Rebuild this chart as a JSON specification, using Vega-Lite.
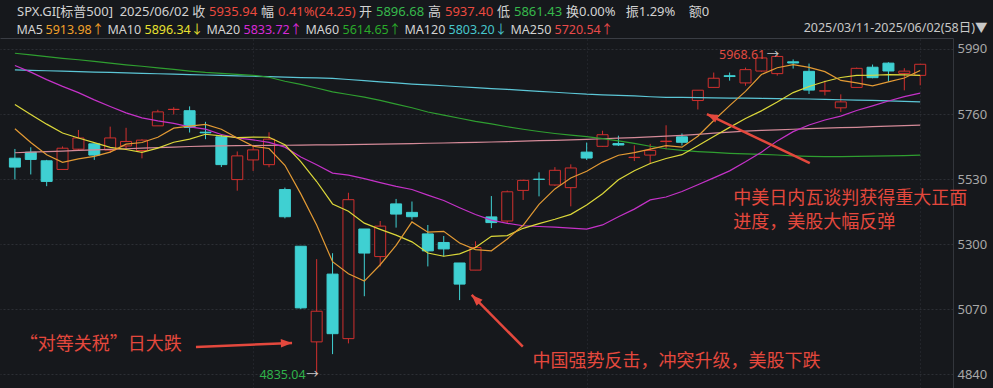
{
  "$schema": "https://vega.github.io/schema/vega-lite/v6.json",
  "width": 953,
  "height": 350,
  "autosize": {"type": "none"},
  "padding": {"left": 0, "top": 38, "right": 40, "bottom": 0},
  "background": "#16181c",
  "config": {"view": {"stroke": null}, "font": "Noto Sans, Noto Sans CJK SC"},
  "datasets": {
    "k": [
      {"i":0,"d":"2025-03-11","open":5603.65,"high":5636.30,"low":5528.41,"close":5572.07,"ma5":5707.60,"ma10":5793.80,"ma20":5931.55,"ma60":5975,"ma120":5916,"ma250":5623},
      {"i":1,"d":"2025-03-12","open":5624.84,"high":5642.19,"low":5546.09,"close":5599.30,"ma5":5658.93,"ma10":5758.12,"ma20":5908.09,"ma60":5969,"ma120":5914.5,"ma250":5625},
      {"i":2,"d":"2025-03-13","open":5594.45,"high":5597.78,"low":5504.65,"close":5521.52,"ma5":5615.53,"ma10":5724.12,"ma20":5881.57,"ma60":5963,"ma120":5913,"ma250":5627},
      {"i":3,"d":"2025-03-14","open":5563.85,"high":5645.27,"low":5563.85,"close":5638.94,"ma5":5589.28,"ma10":5692.56,"ma20":5857.76,"ma60":5957,"ma120":5911.5,"ma250":5629},
      {"i":4,"d":"2025-03-17","open":5635.60,"high":5703.52,"low":5631.12,"close":5675.12,"ma5":5601.39,"ma10":5675.10,"ma20":5835.79,"ma60":5952,"ma120":5910,"ma250":5631},
      {"i":5,"d":"2025-03-18","open":5654.53,"high":5654.53,"low":5597.76,"close":5614.66,"ma5":5609.91,"ma10":5658.75,"ma20":5810.04,"ma60":5946,"ma120":5908.5,"ma250":5633},
      {"i":6,"d":"2025-03-19","open":5632.37,"high":5715.33,"low":5622.20,"close":5675.29,"ma5":5625.11,"ma10":5642.02,"ma20":5786.60,"ma60":5940,"ma120":5907,"ma250":5635},
      {"i":7,"d":"2025-03-20","open":5646.92,"high":5711.15,"low":5632.62,"close":5662.89,"ma5":5653.38,"ma10":5634.46,"ma20":5763.87,"ma60":5934,"ma120":5905.5,"ma250":5637},
      {"i":8,"d":"2025-03-21","open":5630.73,"high":5670.84,"low":5603.10,"close":5667.56,"ma5":5659.10,"ma10":5624.19,"ma20":5746.59,"ma60":5929,"ma120":5904,"ma250":5639},
      {"i":9,"d":"2025-03-24","open":5718.08,"high":5775.14,"low":5718.08,"close":5767.57,"ma5":5677.59,"ma10":5639.49,"ma20":5735.80,"ma60":5923,"ma120":5902.5,"ma250":5641},
      {"i":10,"d":"2025-03-25","open":5775.89,"high":5783.96,"low":5758.40,"close":5776.65,"ma5":5709.99,"ma10":5659.95,"ma20":5726.87,"ma60":5918,"ma120":5901,"ma250":5643},
      {"i":11,"d":"2025-03-26","open":5771.66,"high":5786.95,"low":5694.41,"close":5712.20,"ma5":5717.37,"ma10":5671.24,"ma20":5714.68,"ma60":5912,"ma120":5899.5,"ma250":5645},
      {"i":12,"d":"2025-03-27","open":5695.64,"high":5732.28,"low":5670.94,"close":5693.31,"ma5":5723.46,"ma10":5688.42,"ma20":5706.27,"ma60":5907,"ma120":5898,"ma250":5646.5},
      {"i":13,"d":"2025-03-28","open":5679.33,"high":5685.89,"low":5572.42,"close":5580.94,"ma5":5706.13,"ma10":5682.62,"ma20":5687.59,"ma60":5904,"ma120":5896.5,"ma250":5647.5},
      {"i":14,"d":"2025-03-31","open":5527.91,"high":5627.46,"low":5488.73,"close":5611.85,"ma5":5674.99,"ma10":5676.29,"ma20":5675.70,"ma60":5900,"ma120":5895,"ma250":5648},
      {"i":15,"d":"2025-04-01","open":5597.53,"high":5650.57,"low":5558.52,"close":5633.07,"ma5":5646.27,"ma10":5678.13,"ma20":5668.44,"ma60":5897,"ma120":5893.5,"ma250":5648.5},
      {"i":16,"d":"2025-04-02","open":5580.76,"high":5695.31,"low":5571.48,"close":5670.97,"ma5":5638.03,"ma10":5677.70,"ma20":5659.86,"ma60":5890,"ma120":5892,"ma250":5649},
      {"i":17,"d":"2025-04-03","open":5492.74,"high":5499.53,"low":5390.83,"close":5396.52,"ma5":5578.67,"ma10":5651.06,"ma20":5642.76,"ma60":5876,"ma120":5890.5,"ma250":5649.5},
      {"i":18,"d":"2025-04-04","open":5292.14,"high":5292.14,"low":5069.90,"close":5074.08,"ma5":5477.30,"ma10":5591.72,"ma20":5607.95,"ma60":5865,"ma120":5889,"ma250":5650},
      {"i":19,"d":"2025-04-07","open":4953.79,"high":5246.57,"low":4835.04,"close":5062.25,"ma5":5367.38,"ma10":5521.18,"ma20":5580.34,"ma60":5852,"ma120":5887.5,"ma250":5650.5},
      {"i":20,"d":"2025-04-08","open":5193.57,"high":5267.47,"low":4910.42,"close":4982.77,"ma5":5237.32,"ma10":5441.80,"ma20":5550.87,"ma60":5838,"ma120":5886,"ma250":5651},
      {"i":21,"d":"2025-04-09","open":4965.28,"high":5481.34,"low":4948.43,"close":5456.90,"ma5":5194.50,"ma10":5416.27,"ma20":5543.75,"ma60":5829,"ma120":5882,"ma250":5652},
      {"i":22,"d":"2025-04-10","open":5353.15,"high":5353.15,"low":5115.27,"close":5268.05,"ma5":5168.81,"ma10":5373.74,"ma20":5531.08,"ma60":5820,"ma120":5878,"ma250":5652.5},
      {"i":23,"d":"2025-04-11","open":5255.56,"high":5381.46,"low":5220.77,"close":5363.36,"ma5":5226.67,"ma10":5351.98,"ma20":5517.30,"ma60":5808,"ma120":5874,"ma250":5653.5},
      {"i":24,"d":"2025-04-14","open":5441.96,"high":5459.46,"low":5358.02,"close":5405.97,"ma5":5295.41,"ma10":5331.39,"ma20":5503.84,"ma60":5795,"ma120":5870,"ma250":5654.5},
      {"i":25,"d":"2025-04-15","open":5411.99,"high":5450.41,"low":5386.44,"close":5396.63,"ma5":5378.18,"ma10":5307.75,"ma20":5492.94,"ma60":5782,"ma120":5866,"ma250":5655.5},
      {"i":26,"d":"2025-04-16","open":5335.75,"high":5367.24,"low":5220.79,"close":5275.70,"ma5":5341.94,"ma10":5268.22,"ma20":5472.96,"ma60":5767,"ma120":5863,"ma250":5656.5},
      {"i":27,"d":"2025-04-17","open":5305.45,"high":5328.31,"low":5255.58,"close":5282.70,"ma5":5344.87,"ma10":5256.84,"ma20":5453.95,"ma60":5756,"ma120":5860,"ma250":5657.5},
      {"i":28,"d":"2025-04-21","open":5232.94,"high":5232.94,"low":5101.63,"close":5158.20,"ma5":5303.84,"ma10":5265.25,"ma20":5428.48,"ma60":5745,"ma120":5856.5,"ma250":5658.5},
      {"i":29,"d":"2025-04-22","open":5207.67,"high":5309.60,"low":5207.67,"close":5287.76,"ma5":5280.20,"ma10":5287.80,"ma20":5404.49,"ma60":5734,"ma120":5853,"ma250":5659.5},
      {"i":30,"d":"2025-04-23","open":5395.92,"high":5469.69,"low":5356.22,"close":5375.86,"ma5":5276.04,"ma10":5327.11,"ma20":5384.45,"ma60":5725,"ma120":5850,"ma250":5661},
      {"i":31,"d":"2025-04-24","open":5381.38,"high":5489.40,"low":5371.96,"close":5484.77,"ma5":5317.86,"ma10":5329.90,"ma20":5373.08,"ma60":5715,"ma120":5847,"ma250":5662.5},
      {"i":32,"d":"2025-04-25","open":5489.69,"high":5528.11,"low":5455.86,"close":5525.21,"ma5":5366.36,"ma10":5355.62,"ma20":5364.68,"ma60":5706,"ma120":5843.5,"ma250":5664},
      {"i":33,"d":"2025-04-28","open":5529.22,"high":5553.66,"low":5468.64,"close":5528.75,"ma5":5440.47,"ma10":5372.16,"ma20":5362.07,"ma60":5698,"ma120":5840,"ma250":5665.5},
      {"i":34,"d":"2025-04-29","open":5508.87,"high":5571.95,"low":5505.70,"close":5560.83,"ma5":5495.08,"ma10":5387.64,"ma20":5359.52,"ma60":5691,"ma120":5837,"ma250":5667},
      {"i":35,"d":"2025-04-30","open":5499.44,"high":5581.84,"low":5433.24,"close":5569.06,"ma5":5533.72,"ma10":5404.88,"ma20":5356.32,"ma60":5685,"ma120":5833.5,"ma250":5668.5},
      {"i":36,"d":"2025-05-01","open":5625.14,"high":5658.91,"low":5597.35,"close":5604.14,"ma5":5557.60,"ma10":5437.73,"ma20":5352.98,"ma60":5680,"ma120":5830,"ma250":5670.5},
      {"i":37,"d":"2025-05-02","open":5645.69,"high":5700.70,"low":5644.53,"close":5686.67,"ma5":5589.89,"ma10":5478.13,"ma20":5367.48,"ma60":5673,"ma120":5828,"ma250":5672.5},
      {"i":38,"d":"2025-05-05","open":5655.32,"high":5683.23,"low":5646.91,"close":5650.38,"ma5":5614.22,"ma10":5527.34,"ma20":5396.30,"ma60":5665,"ma120":5826,"ma250":5674.5},
      {"i":39,"d":"2025-05-06","open":5605.88,"high":5649.11,"low":5593.60,"close":5606.91,"ma5":5623.43,"ma10":5559.26,"ma20":5423.53,"ma60":5656,"ma120":5824,"ma250":5676.5},
      {"i":40,"d":"2025-05-07","open":5614.60,"high":5654.34,"low":5585.82,"close":5631.28,"ma5":5635.88,"ma10":5584.80,"ma20":5455.96,"ma60":5646,"ma120":5821,"ma250":5679},
      {"i":41,"d":"2025-05-08","open":5662.50,"high":5720.10,"low":5635.13,"close":5663.94,"ma5":5647.84,"ma10":5602.72,"ma20":5466.31,"ma60":5637,"ma120":5819,"ma250":5681.5},
      {"i":42,"d":"2025-05-09","open":5679.28,"high":5691.22,"low":5648.36,"close":5659.91,"ma5":5642.48,"ma10":5616.19,"ma20":5485.90,"ma60":5631,"ma120":5818.5,"ma250":5684.5},
      {"i":43,"d":"2025-05-12","open":5807.63,"high":5844.19,"low":5775.98,"close":5844.19,"ma5":5681.25,"ma10":5647.73,"ma20":5509.94,"ma60":5627,"ma120":5818,"ma250":5688},
      {"i":44,"d":"2025-05-13","open":5854.13,"high":5906.63,"low":5853.42,"close":5886.55,"ma5":5737.17,"ma10":5680.30,"ma20":5533.97,"ma60":5624,"ma120":5817,"ma250":5692},
      {"i":45,"d":"2025-05-14","open":5895.50,"high":5906.60,"low":5878.00,"close":5892.58,"ma5":5789.43,"ma10":5712.66,"ma20":5558.77,"ma60":5621,"ma120":5816.5,"ma250":5696},
      {"i":46,"d":"2025-05-15","open":5869.99,"high":5924.15,"low":5860.01,"close":5916.93,"ma5":5840.03,"ma10":5743.93,"ma20":5590.83,"ma60":5619,"ma120":5816,"ma250":5699.5},
      {"i":47,"d":"2025-05-16","open":5912.00,"high":5958.62,"low":5909.39,"close":5958.38,"ma5":5899.73,"ma10":5771.11,"ma20":5624.62,"ma60":5617,"ma120":5815,"ma250":5702},
      {"i":48,"d":"2025-05-19","open":5902.88,"high":5968.61,"low":5895.69,"close":5963.60,"ma5":5923.61,"ma10":5802.43,"ma20":5664.89,"ma60":5615,"ma120":5814.5,"ma250":5704},
      {"i":49,"d":"2025-05-20","open":5944.66,"high":5953.06,"low":5920.74,"close":5940.46,"ma5":5934.39,"ma10":5835.78,"ma20":5697.52,"ma60":5612,"ma120":5814,"ma250":5706},
      {"i":50,"d":"2025-05-21","open":5910.97,"high":5938.37,"low":5830.87,"close":5844.61,"ma5":5924.80,"ma10":5857.12,"ma20":5720.96,"ma60":5610,"ma120":5813,"ma250":5708},
      {"i":51,"d":"2025-05-22","open":5841.26,"high":5878.08,"low":5825.82,"close":5842.01,"ma5":5909.81,"ma10":5874.92,"ma20":5738.82,"ma60":5609,"ma120":5812,"ma250":5710},
      {"i":52,"d":"2025-05-23","open":5781.89,"high":5829.51,"low":5767.41,"close":5802.82,"ma5":5878.70,"ma10":5889.21,"ma20":5752.70,"ma60":5609,"ma120":5810.5,"ma250":5711.5},
      {"i":53,"d":"2025-05-27","open":5854.07,"high":5924.33,"low":5854.07,"close":5921.54,"ma5":5870.29,"ma10":5896.95,"ma20":5772.34,"ma60":5610,"ma120":5809,"ma250":5713},
      {"i":54,"d":"2025-05-28","open":5925.57,"high":5935.00,"low":5886.35,"close":5888.55,"ma5":5859.91,"ma10":5897.15,"ma20":5788.73,"ma60":5611,"ma120":5808,"ma250":5715},
      {"i":55,"d":"2025-05-29","open":5939.96,"high":5943.13,"low":5873.80,"close":5912.17,"ma5":5873.42,"ma10":5899.11,"ma20":5805.88,"ma60":5612,"ma120":5806.5,"ma250":5717},
      {"i":56,"d":"2025-05-30","open":5903.67,"high":5922.14,"low":5843.66,"close":5911.69,"ma5":5887.35,"ma10":5898.58,"ma20":5821.26,"ma60":5613,"ma120":5805,"ma250":5719},
      {"i":57,"d":"2025-06-02","open":5896.68,"high":5937.40,"low":5861.43,"close":5935.94,"ma5":5913.98,"ma10":5896.34,"ma20":5833.72,"ma60":5614.65,"ma120":5803.20,"ma250":5720.54}
    ],
    "notes": [
      {"ni": 0.31, "nv": 4943, "t": "“对等关税”日大跌"},
      {"ni": 32.59, "nv": 4884, "t": "中国强势反击，冲突升级，美股下跌"},
      {"ni": 45.23, "nv": 5459, "t": "中美日内瓦谈判获得重大正面"},
      {"ni": 45.23, "nv": 5376, "t": "进度，美股大幅反弹"}
    ],
    "arrows": [
      {"id": 1, "i1": 11.4, "v1": 4936, "i2": 17.45, "v2": 4950},
      {"id": 2, "i1": 31.98, "v1": 4937, "i2": 28.76, "v2": 5120},
      {"id": 3, "i1": 50.05, "v1": 5586, "i2": 43.57, "v2": 5760}
    ],
    "hdr1": [
      {"seg": "SPX.GI[标普500]\u00a0\u00a02025/06/02\u00a0收"},
      {"seg": "5935.94\u200b"},
      {"seg": "幅"},
      {"seg": "0.41%(24.25)\u200b"},
      {"seg": "开"},
      {"seg": "5896.68\u200b"},
      {"seg": "高"},
      {"seg": "5937.40\u200b"},
      {"seg": "低"},
      {"seg": "5861.43\u200b"},
      {"seg": "换0.00%\u00a0\u00a0\u00a0振1.29%\u00a0\u00a0\u00a0\u00a0额0"}
    ],
    "hdr2": [
      {"seg": "MA5"}, {"seg": "5913.98↑\u200b"},
      {"seg": "MA10"}, {"seg": "5896.34↓\u200b"},
      {"seg": "MA20"}, {"seg": "5833.72↑\u200b"},
      {"seg": "MA60"}, {"seg": "5614.65↑\u200b"},
      {"seg": "MA120"}, {"seg": "5803.20↓\u200b"},
      {"seg": "MA250"}, {"seg": "5720.54↑"}
    ]
  },
  "layer": [
    {
      "data": {"name": "k"},
      "mark": {"type": "rule", "strokeWidth": 1},
      "encoding": {
        "x": {"field": "i", "type": "quantitative", "scale": {"domain": [-0.623, 58.75], "nice": false, "zero": false},
          "axis": {"orient": "top", "values": [15, 36, 57], "grid": true, "gridColor": "#3a3d44", "gridDash": [1, 3], "gridOpacity": 0.7,
            "labels": false, "ticks": false, "domain": true, "domainColor": "#3a3d44",
            "title": "2025/03/11-2025/06/02(58日)▼", "titleColor": "#c8c8c8", "titleFont": "Noto Sans, Noto Sans CJK SC", "titleFontSize": 12.5, "titleFontWeight": "normal",
            "titleX": 987, "titleY": -11, "titleAlign": "right", "titleBaseline": "middle", "titleAngle": 0}},
        "y": {"field": "low", "type": "quantitative", "scale": {"domain": [4790.6, 6028.9], "nice": false, "zero": false},
          "axis": {"orient": "right", "values": [4840, 5070, 5300, 5530, 5760, 5990], "format": "d", "grid": true, "gridColor": "#2c2f35", "gridDash": [2, 2],
            "ticks": false, "domain": true, "domainColor": "#33363c", "labelColor": "#a8a8a8", "labelFontSize": 13, "labelPadding": 4, "title": null,
            "labelFont": "Noto Sans, Noto Sans CJK SC"}},
        "y2": {"field": "high"},
        "color": {"condition": {"test": "datum.close >= datum.open", "value": "#d0302e"}, "value": "#3fd0d2"}
      }
    },
    {
      "data": {"name": "k"},
      "mark": {"type": "bar", "width": 11, "strokeWidth": 1},
      "encoding": {
        "x": {"field": "i", "type": "quantitative"},
        "y": {"field": "open", "type": "quantitative"},
        "y2": {"field": "close"},
        "fill": {"condition": {"test": "datum.close >= datum.open", "value": "#16181c"}, "value": "#3fd0d2"},
        "stroke": {"condition": {"test": "datum.close >= datum.open", "value": "#d0302e"}, "value": "#3fd0d2"}
      }
    },
    {
      "data": {"name": "k"},
      "transform": [{"fold": ["ma250", "ma120", "ma60", "ma20", "ma10", "ma5"], "as": ["ma", "v"]}],
      "mark": {"type": "line", "strokeWidth": 1.2},
      "encoding": {
        "x": {"field": "i", "type": "quantitative"},
        "y": {"field": "v", "type": "quantitative"},
        "color": {"field": "ma", "type": "nominal", "legend": null,
          "scale": {"domain": ["ma5", "ma10", "ma20", "ma60", "ma120", "ma250"], "range": ["#e39a34", "#dcd83a", "#c532c8", "#2f9e30", "#5cc6d6", "#d48a98"]}}
      }
    },
    {
      "data": {"name": "notes"},
      "mark": {"type": "text", "align": "left", "baseline": "middle", "font": "Noto Sans CJK SC", "fontSize": 18, "color": "#e4483d"},
      "encoding": {
        "x": {"field": "ni", "type": "quantitative"},
        "y": {"field": "nv", "type": "quantitative"},
        "text": {"field": "t"}
      }
    },
    {
      "data": {"name": "arrows"},
      "mark": {"type": "rule", "strokeWidth": 2.5, "color": "#e4483d"},
      "encoding": {
        "x": {"field": "i1", "type": "quantitative"},
        "y": {"field": "v1", "type": "quantitative"},
        "x2": {"field": "i2"},
        "y2": {"field": "v2"}
      }
    },
    {
      "data": {"name": "arrows"},
      "transform": [{"filter": "datum.id == 1"}],
      "mark": {"type": "point", "shape": "M0,0L-0.38,1L0.38,1Z", "filled": true, "size": 500, "angle": 88, "color": "#e4483d", "opacity": 1},
      "encoding": {
        "x": {"field": "i2", "type": "quantitative"},
        "y": {"field": "v2", "type": "quantitative"}
      }
    },
    {
      "data": {"name": "arrows"},
      "transform": [{"filter": "datum.id == 2"}],
      "mark": {"type": "point", "shape": "M0,0L-0.38,1L0.38,1Z", "filled": true, "size": 500, "angle": 315, "color": "#e4483d", "opacity": 1},
      "encoding": {
        "x": {"field": "i2", "type": "quantitative"},
        "y": {"field": "v2", "type": "quantitative"}
      }
    },
    {
      "data": {"name": "arrows"},
      "transform": [{"filter": "datum.id == 3"}],
      "mark": {"type": "point", "shape": "M0,0L-0.38,1L0.38,1Z", "filled": true, "size": 500, "angle": 295, "color": "#e4483d", "opacity": 1},
      "encoding": {
        "x": {"field": "i2", "type": "quantitative"},
        "y": {"field": "v2", "type": "quantitative"}
      }
    },
    {
      "data": {"name": "k"},
      "transform": [{"joinaggregate": [{"op": "max", "field": "high", "as": "hmax"}]}, {"filter": "datum.high == datum.hmax"}],
      "encoding": {
        "x": {"field": "i", "type": "quantitative"},
        "y": {"field": "high", "type": "quantitative"}
      },
      "layer": [
        {"mark": {"type": "text", "align": "right", "baseline": "middle", "dx": -12, "fontSize": 12.5, "color": "#e04a40"}, "encoding": {"text": {"field": "high", "format": ".2f"}}},
        {"mark": {"type": "text", "align": "right", "baseline": "middle", "dx": 2, "fontSize": 12.5, "color": "#c8c8c8"}, "encoding": {"text": {"value": "→"}}}
      ]
    },
    {
      "data": {"name": "k"},
      "transform": [{"joinaggregate": [{"op": "min", "field": "low", "as": "lmin"}]}, {"filter": "datum.low == datum.lmin"}],
      "encoding": {
        "x": {"field": "i", "type": "quantitative"},
        "y": {"field": "low", "type": "quantitative"}
      },
      "layer": [
        {"mark": {"type": "text", "align": "right", "baseline": "middle", "dx": -11, "fontSize": 12.5, "color": "#2fb24a"}, "encoding": {"text": {"field": "low", "format": ".2f"}}},
        {"mark": {"type": "text", "align": "right", "baseline": "middle", "dx": 2, "fontSize": 12.5, "color": "#c8c8c8"}, "encoding": {"text": {"value": "→"}}}
      ]
    },
    {
      "data": {"name": "hdr1"},
      "mark": {"type": "point", "opacity": 0},
      "encoding": {
        "fill": {"field": "seg", "type": "nominal",
          "scale": {
            "domain": ["SPX.GI[标普500]\u00a0\u00a02025/06/02\u00a0收", "5935.94\u200b", "幅", "0.41%(24.25)\u200b", "开", "5896.68\u200b", "高", "5937.40\u200b", "低", "5861.43\u200b", "换0.00%\u00a0\u00a0\u00a0振1.29%\u00a0\u00a0\u00a0\u00a0额0"],
            "range": ["#d2d2d2", "#ea4a3f", "#d2d2d2", "#ea4a3f", "#d2d2d2", "#36b84c", "#d2d2d2", "#ea4a3f", "#d2d2d2", "#36b84c", "#d2d2d2"]},
          "legend": {"orient": "none", "legendX": 14, "legendY": -33, "direction": "horizontal", "title": null, "padding": 0,
            "symbolSize": 0.01, "symbolOpacity": 0, "symbolStrokeWidth": 0, "labelOffset": -10, "columnPadding": 0,
            "labelFont": "Noto Sans, Noto Sans CJK SC", "labelFontSize": 13, "labelLimit": 500,
            "labelColor": {"expr": "scale('fill', datum.value)"}}
        }
      }
    },
    {
      "data": {"name": "hdr2"},
      "mark": {"type": "point", "opacity": 0},
      "encoding": {
        "stroke": {"field": "seg", "type": "nominal",
          "scale": {
            "domain": ["MA5", "5913.98↑\u200b", "MA10", "5896.34↓\u200b", "MA20", "5833.72↑\u200b", "MA60", "5614.65↑\u200b", "MA120", "5803.20↓\u200b", "MA250", "5720.54↑"],
            "range": ["#d2d2d2", "#f0a02a", "#d2d2d2", "#e8e030", "#d2d2d2", "#d62ad6", "#d2d2d2", "#2aaa2a", "#d2d2d2", "#46c6cc", "#d2d2d2", "#e84a4a"]},
          "legend": {"orient": "none", "legendX": 14, "legendY": -14, "direction": "horizontal", "title": null, "padding": 0,
            "symbolSize": 0.01, "symbolOpacity": 0, "symbolStrokeWidth": 0, "labelOffset": -10, "columnPadding": 0,
            "labelFont": "Noto Sans, Noto Sans CJK SC", "labelFontSize": 12.5, "labelLimit": 500,
            "labelColor": {"expr": "scale('stroke', datum.value)"}}
        }
      }
    }
  ]
}
